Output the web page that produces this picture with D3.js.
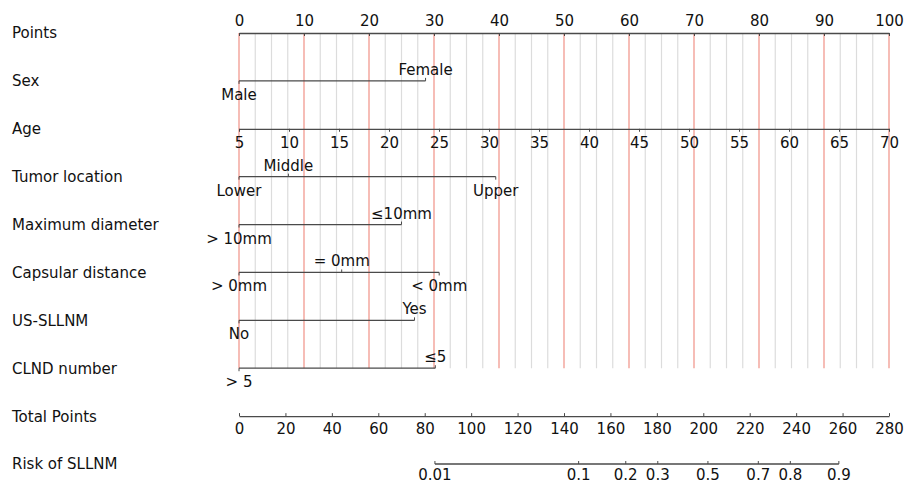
<!DOCTYPE html>
<html lang="en">
<head>
<meta charset="utf-8">
<title>Nomogram SLLNM</title>
<script src="https://cdn.jsdelivr.net/npm/d3@7"></script>
<style>
  body { margin: 0; background: #fff; }
  text { font-family: "DejaVu Sans", sans-serif; fill: #111; }
</style>
</head>
<body>
<script>
// row names, top to bottom
var rowNames = ["Points", "Sex", "Age", "Tumor location", "Maximum diameter",
                "Capsular distance", "US-SLLNM", "CLND number", "Total Points", "Risk of SLLNM"];

// points axis
var pointsTicks = [0, 10, 20, 30, 40, 50, 60, 70, 80, 90, 100];

// age (continuous): 5 -> 0 points, 70 -> 100 points
var ageTicks = [5, 10, 15, 20, 25, 30, 35, 40, 45, 50, 55, 60, 65, 70];
var ageRange = [5, 70];
var agePoints = [0, 100];

// categorical variables
var sexLevels = ["Male", "Female"];
var sexPoints = [0, 28.7];
var tumorLevels = ["Lower", "Middle", "Upper"];
var tumorPoints = [0, 7.6, 39.5];
var diamLevels = ["> 10mm", "\u226410mm"];
var diamPoints = [0, 25.0];
var capsLevels = ["> 0mm", "= 0mm", "< 0mm"];
var capsPoints = [0, 15.8, 30.8];
var usLevels = ["No", "Yes"];
var usPoints = [0, 27.0];
var clndLevels = ["> 5", "\u22645"];
var clndPoints = [0, 30.2];

// total points and risk
var totalTicks = [0, 20, 40, 60, 80, 100, 120, 140, 160, 180, 200, 220, 240, 260, 280];
var riskTicks = [0.01, 0.1, 0.2, 0.3, 0.5, 0.7, 0.8, 0.9];
var riskPoints = [84.4, 146.3, 166.6, 180.4, 202.0, 223.7, 237.5, 258.4];

var w = 906, h = 485;
var x0 = 239, x1 = 889;
var fs = "15px";

var svg = d3.select("body").append("svg")
    .attr("width", w).attr("height", h);

var yScale = d3.scalePoint().domain(rowNames).range([33, 464]);
var xPoints = d3.scaleLinear().domain([0, 100]).range([x0, x1]);
var xAge = d3.scaleLinear().domain(ageRange).range(agePoints.map(xPoints));
var xTotal = d3.scaleLinear().domain([0, 280]).range([x0, x1]);

// row labels
svg.selectAll(".rowlab")
   .data(rowNames)
   .enter().append("text")
   .attr("x", 12)
   .attr("y", function(d) { return yScale(d); })
   .attr("dy", "0.36em")
   .style("font-size", fs)
   .text(function(d) { return d; });

// vertical guide lines every 2.5 points, red every 10
var grid = d3.range(0, 100.01, 2.5);
svg.selectAll(".grid")
   .data(grid)
   .enter().append("line")
   .attr("x1", function(d) { return xPoints(d); })
   .attr("x2", function(d) { return xPoints(d); })
   .attr("y1", yScale("Points"))
   .attr("y2", yScale("CLND number"))
   .attr("stroke", function(d) { return d % 10 === 0 ? "#f19a90" : "#dcdcdc"; })
   .attr("stroke-width", function(d) { return d % 10 === 0 ? 1.3 : 1.2; });

function styleAxis(g) {
  g.select(".domain").attr("stroke", "#4a4a4a").attr("stroke-width", 1.3);
  g.selectAll(".tick line").attr("stroke", "#4a4a4a");
  g.selectAll(".tick text").style("font-size", fs).style("font-family", "DejaVu Sans").attr("fill", "#111");
}

// Points axis (labels above, ticks down)
var gp = svg.append("g").attr("transform", "translate(0," + yScale("Points") + ")");
gp.call(d3.axisTop(xPoints).tickValues(grid).tickFormat("").tickSize(-3).tickSizeOuter(0));
gp.call(d3.axisTop(xPoints).tickValues(pointsTicks).tickSize(-3).tickSizeOuter(0).tickPadding(7));
styleAxis(gp);

// Age axis
var ga = svg.append("g").attr("transform", "translate(0," + yScale("Age") + ")");
ga.call(d3.axisBottom(xAge).tickValues(ageTicks).tickSize(3).tickSizeOuter(0).tickPadding(6));
styleAxis(ga);

// categorical rows
var cats = [
  { name: "Sex", levels: sexLevels, pts: sexPoints },
  { name: "Tumor location", levels: tumorLevels, pts: tumorPoints },
  { name: "Maximum diameter", levels: diamLevels, pts: diamPoints },
  { name: "Capsular distance", levels: capsLevels, pts: capsPoints },
  { name: "US-SLLNM", levels: usLevels, pts: usPoints },
  { name: "CLND number", levels: clndLevels, pts: clndPoints }
];

cats.forEach(function(c) {
  var y = yScale(c.name);
  var g = svg.append("g");
  g.append("line")
   .attr("x1", xPoints(d3.min(c.pts))).attr("x2", xPoints(d3.max(c.pts)))
   .attr("y1", y).attr("y2", y)
   .attr("stroke", "#4a4a4a").attr("stroke-width", 1.3);
  c.levels.forEach(function(lev, i) {
    var above = i % 2 === 1;
    var x = xPoints(c.pts[i]);
    g.append("line")
     .attr("x1", x).attr("x2", x)
     .attr("y1", y).attr("y2", above ? y - 3 : y + 3)
     .attr("stroke", "#4a4a4a");
    g.append("text")
     .attr("x", x)
     .attr("y", above ? y - 6 : y + 19)
     .attr("text-anchor", "middle")
     .style("font-size", fs)
     .text(lev);
  });
});

// Total points axis
var gt = svg.append("g").attr("transform", "translate(0," + yScale("Total Points") + ")");
gt.call(d3.axisBottom(xTotal).tickValues(d3.range(0, 280.01, 20 / 7)).tickFormat("").tickSize(-2).tickSizeOuter(0));
gt.call(d3.axisBottom(xTotal).tickValues(totalTicks).tickSize(-3).tickSizeOuter(0).tickPadding(7));
styleAxis(gt);

// Risk axis
var yr = yScale("Risk of SLLNM");
var gr = svg.append("g");
gr.append("line")
  .attr("x1", xTotal(d3.min(riskPoints))).attr("x2", xTotal(d3.max(riskPoints)))
  .attr("y1", yr).attr("y2", yr)
  .attr("stroke", "#4a4a4a").attr("stroke-width", 1.3);
gr.selectAll(".rt")
  .data(riskTicks)
  .enter().append("line")
  .attr("x1", function(d, i) { return xTotal(riskPoints[i]); })
  .attr("x2", function(d, i) { return xTotal(riskPoints[i]); })
  .attr("y1", yr).attr("y2", yr - 3)
  .attr("stroke", "#4a4a4a");
gr.selectAll(".rl")
  .data(riskTicks)
  .enter().append("text")
  .attr("x", function(d, i) { return xTotal(riskPoints[i]); })
  .attr("y", yr + 16)
  .attr("text-anchor", "middle")
  .style("font-size", fs)
  .text(function(d) { return d; });
</script>
</body>
</html>
